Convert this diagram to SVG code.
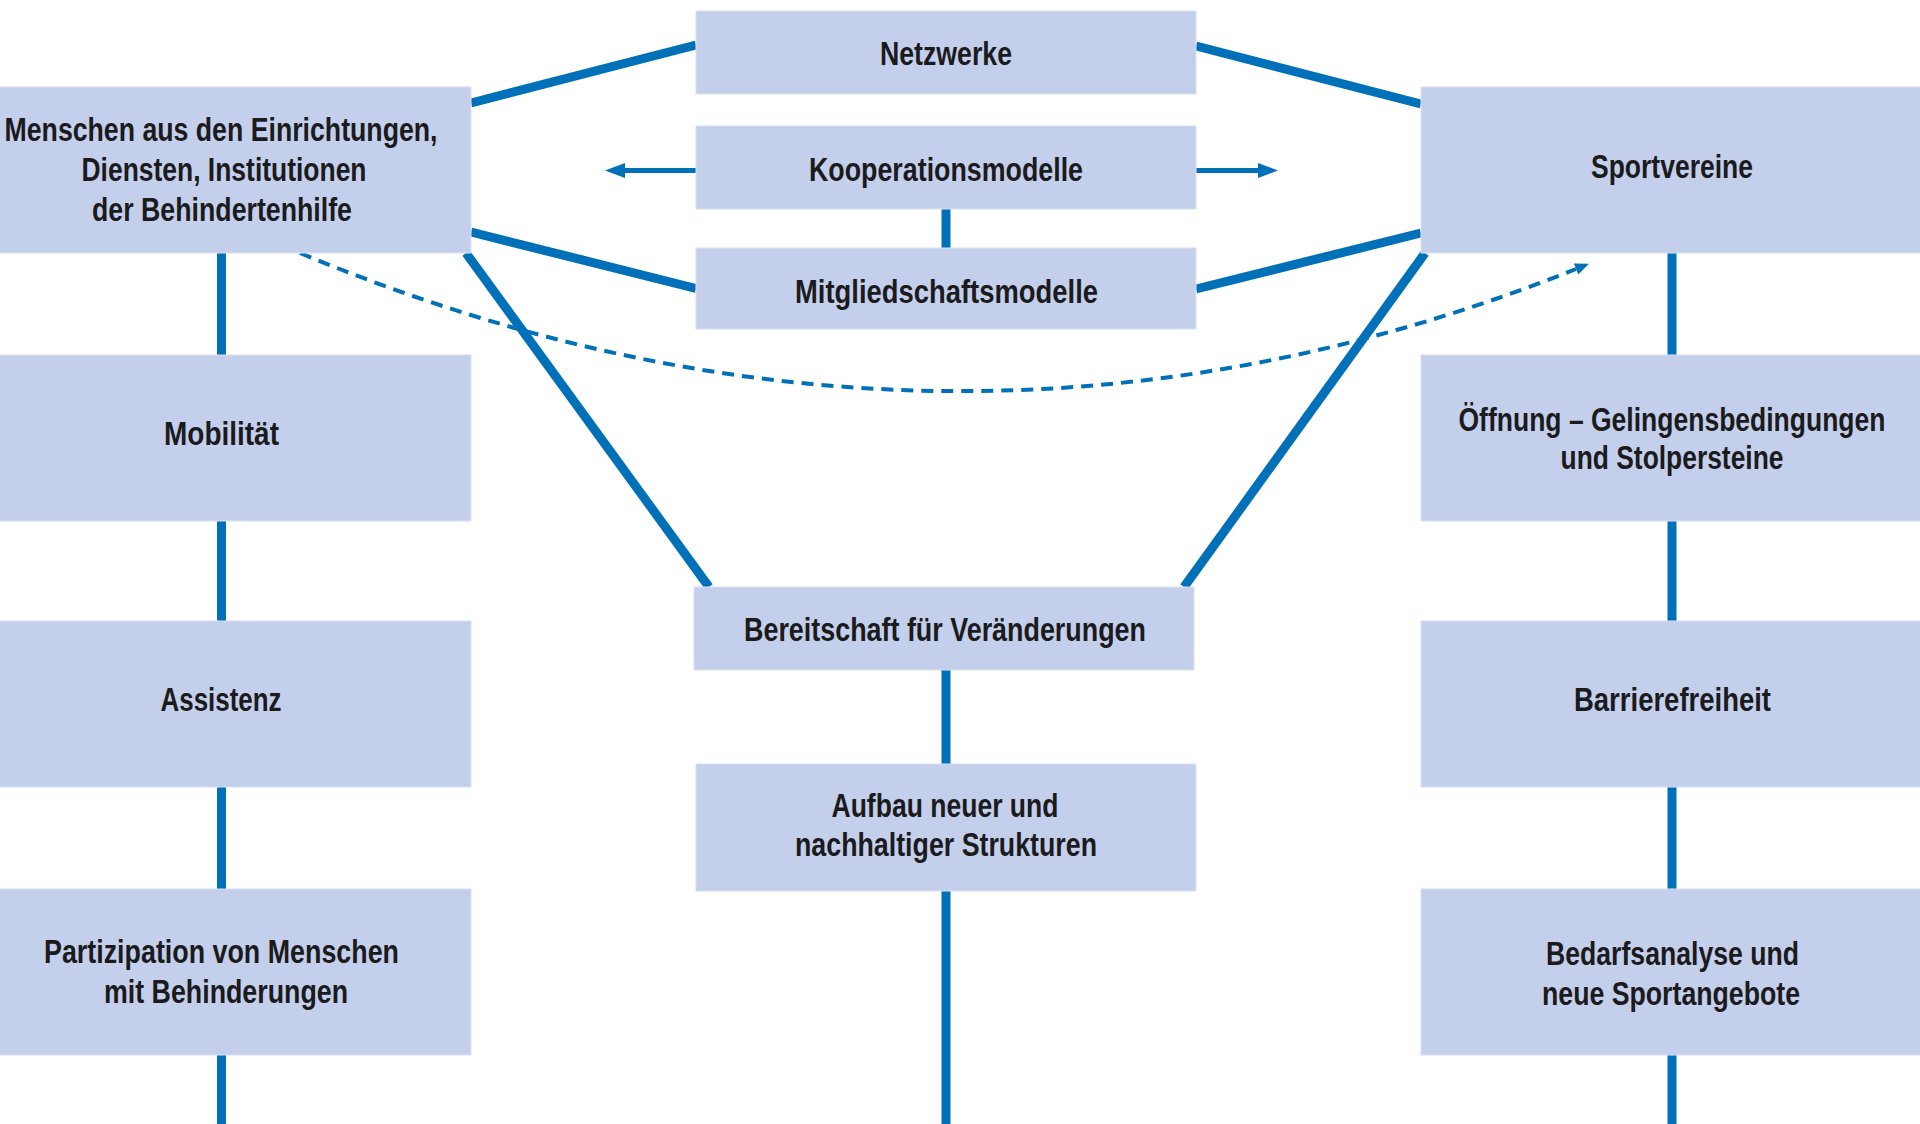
<svg xmlns="http://www.w3.org/2000/svg" width="1920" height="1124" viewBox="0 0 1920 1124">
<style>
.box{fill:#c4cfec;stroke:#d9e0f3;stroke-width:1}
.t{font-family:"Liberation Sans Narrow","Liberation Sans",Arial,sans-serif;font-weight:bold;font-size:34px;fill:#1b1b1d;text-anchor:middle}
.c{stroke:#0070b9;stroke-width:9;fill:none}
.a{stroke:#0070b9;stroke-width:5;fill:none}
.d{stroke:#0070b9;stroke-width:4;fill:none;stroke-dasharray:12 8}
</style>
<defs>
<marker id="ah" markerUnits="userSpaceOnUse" markerWidth="22" markerHeight="17" refX="0" refY="7.5" orient="auto">
<path d="M0,0 L20,7.5 L0,15 z" fill="#0070b9"/>
</marker>
<marker id="ahd" markerUnits="userSpaceOnUse" markerWidth="16" markerHeight="14" refX="0" refY="6" orient="auto">
<path d="M0,0 L14,6 L0,12 z" fill="#0070b9"/>
</marker>
</defs>
<rect width="1920" height="1124" fill="#ffffff"/>
<g id="connectors">
<line class="c" x1="221.5" y1="253" x2="221.5" y2="355"/>
<line class="c" x1="221.5" y1="521" x2="221.5" y2="621"/>
<line class="c" x1="221.5" y1="787" x2="221.5" y2="889"/>
<line class="c" x1="221.5" y1="1055" x2="221.5" y2="1124"/>
<line class="c" x1="1672" y1="253" x2="1672" y2="355"/>
<line class="c" x1="1672" y1="521" x2="1672" y2="621"/>
<line class="c" x1="1672" y1="787" x2="1672" y2="889"/>
<line class="c" x1="1672" y1="1055" x2="1672" y2="1124"/>
<line class="c" x1="946" y1="209" x2="946" y2="248"/>
<line class="c" x1="946" y1="670" x2="946" y2="764"/>
<line class="c" x1="946" y1="891" x2="946" y2="1124"/>
<line class="c" x1="471" y1="103" x2="696" y2="45"/>
<line class="c" x1="471" y1="232" x2="696" y2="288.5"/>
<line class="c" x1="1196" y1="46" x2="1421" y2="104"/>
<line class="c" x1="1196" y1="289" x2="1421" y2="233"/>
<line class="c" x1="466" y1="253" x2="709" y2="587"/>
<line class="c" x1="1425" y1="253" x2="1184" y2="587"/>
<line class="a" x1="696" y1="170.5" x2="625" y2="170.5" marker-end="url(#ah)"/>
<line class="a" x1="1196" y1="170.5" x2="1258" y2="170.5" marker-end="url(#ah)"/>
<path class="d" d="M300,253 Q944,521 1576,269" marker-end="url(#ahd)"/>
</g>
<g id="n-menschen"><rect class="box" x="-29" y="87" width="500" height="166"/>
<text class="t" x="221" y="141" textLength="433" lengthAdjust="spacingAndGlyphs">Menschen aus den Einrichtungen,</text>
<text class="t" x="224" y="181" textLength="285" lengthAdjust="spacingAndGlyphs">Diensten, Institutionen</text>
<text class="t" x="222" y="221" textLength="260" lengthAdjust="spacingAndGlyphs">der Behindertenhilfe</text></g>
<g id="n-netzwerke"><rect class="box" x="696" y="11" width="500" height="83"/>
<text class="t" x="946" y="65" textLength="132" lengthAdjust="spacingAndGlyphs">Netzwerke</text></g>
<g id="n-kooperation"><rect class="box" x="696" y="126" width="500" height="83"/>
<text class="t" x="946" y="180.5" textLength="274" lengthAdjust="spacingAndGlyphs">Kooperationsmodelle</text></g>
<g id="n-mitglied"><rect class="box" x="696" y="248" width="500" height="81"/>
<text class="t" x="946.5" y="302.5" textLength="303" lengthAdjust="spacingAndGlyphs">Mitgliedschaftsmodelle</text></g>
<g id="n-sportvereine"><rect class="box" x="1421" y="87" width="500" height="166"/>
<text class="t" x="1672" y="178" textLength="162" lengthAdjust="spacingAndGlyphs">Sportvereine</text></g>
<g id="n-mobilitaet"><rect class="box" x="-29" y="355" width="500" height="166"/>
<text class="t" x="221.5" y="445" textLength="115" lengthAdjust="spacingAndGlyphs">Mobilität</text></g>
<g id="n-oeffnung"><rect class="box" x="1421" y="355" width="500" height="166"/>
<text class="t" x="1672" y="430.5" textLength="427" lengthAdjust="spacingAndGlyphs">Öffnung – Gelingensbedingungen</text>
<text class="t" x="1672" y="468.5" textLength="223" lengthAdjust="spacingAndGlyphs">und Stolpersteine</text></g>
<g id="n-bereitschaft"><rect class="box" x="694" y="587" width="500" height="83"/>
<text class="t" x="945" y="641" textLength="402" lengthAdjust="spacingAndGlyphs">Bereitschaft für Veränderungen</text></g>
<g id="n-assistenz"><rect class="box" x="-29" y="621" width="500" height="166"/>
<text class="t" x="221" y="710.5" textLength="121" lengthAdjust="spacingAndGlyphs">Assistenz</text></g>
<g id="n-barriere"><rect class="box" x="1421" y="621" width="500" height="166"/>
<text class="t" x="1672.5" y="710.5" textLength="197" lengthAdjust="spacingAndGlyphs">Barrierefreiheit</text></g>
<g id="n-aufbau"><rect class="box" x="696" y="764" width="500" height="127"/>
<text class="t" x="945" y="816.5" textLength="227" lengthAdjust="spacingAndGlyphs">Aufbau neuer und</text>
<text class="t" x="946" y="855.5" textLength="302" lengthAdjust="spacingAndGlyphs">nachhaltiger Strukturen</text></g>
<g id="n-partizipation"><rect class="box" x="-29" y="889" width="500" height="166"/>
<text class="t" x="221.5" y="963" textLength="355" lengthAdjust="spacingAndGlyphs">Partizipation von Menschen</text>
<text class="t" x="226" y="1002.5" textLength="244" lengthAdjust="spacingAndGlyphs">mit Behinderungen</text></g>
<g id="n-bedarf"><rect class="box" x="1421" y="889" width="500" height="166"/>
<text class="t" x="1672.5" y="965" textLength="253" lengthAdjust="spacingAndGlyphs">Bedarfsanalyse und</text>
<text class="t" x="1671" y="1004.5" textLength="258" lengthAdjust="spacingAndGlyphs">neue Sportangebote</text></g>
</svg>
